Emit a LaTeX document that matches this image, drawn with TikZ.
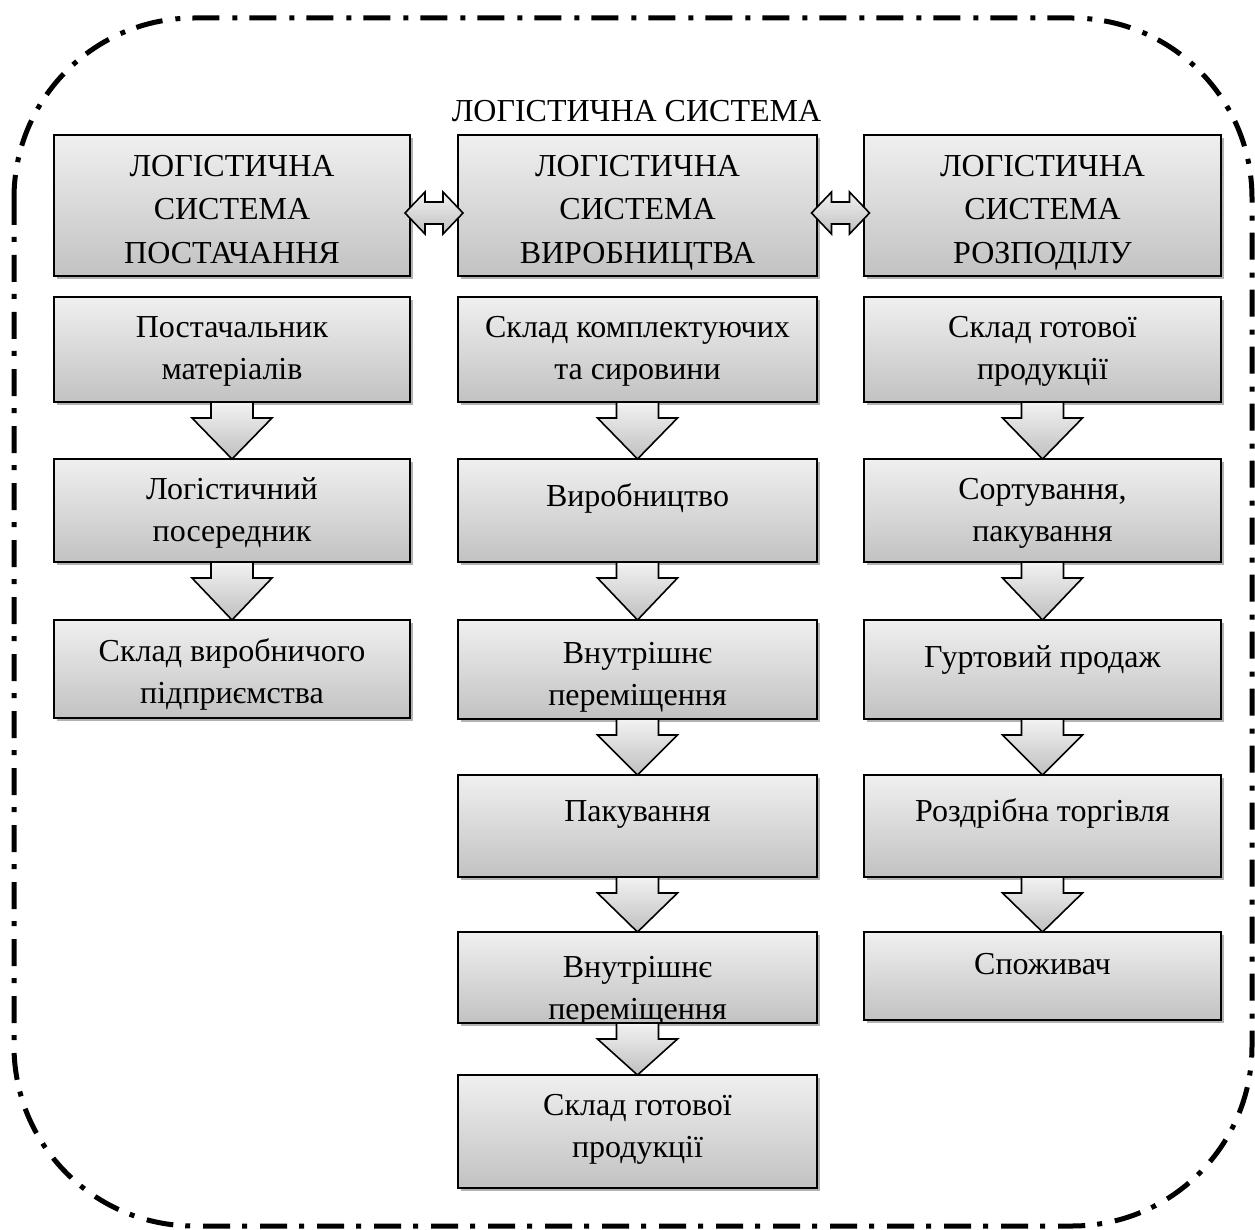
\documentclass[tikz,border=0pt]{standalone}
\usepackage{fontspec}
\setmainfont{Liberation Serif}
\usetikzlibrary{shadows,calc}

\tikzset{
  cellbox/.style={rectangle, draw=black, line width=2pt, inner sep=0pt, outer sep=0pt,
    top color=gray!12, bottom color=gray!48,
    drop shadow={shadow xshift=3pt, shadow yshift=-3pt, opacity=0.3, fill=black}},
  celltext/.style={anchor=north, yshift=29.4pt, align=center, inner sep=0pt,
    font=\fontsize{32}{42}\selectfont},
  headtext/.style={celltext, font=\fontsize{32}{43.5}\selectfont},
  blockarrow/.style={draw=black, line width=1.6pt, line join=miter,
    top color=gray!10, bottom color=gray!50},
  frameline/.style={line width=5pt, dash pattern=on 27pt off 12pt on 5pt off 13pt,
    rounded corners=180pt},
}

% block arrow pointing down from one cell to the next
\newcommand\flowarrow[2]{%
  \draw[blockarrow] ([xshift=-21pt]#1.south) -- ++(0,-16pt) coordinate (#1-#2-l)
    -- ++(-19pt,0) -- (#2.north) -- ([xshift=61pt]#1-#2-l) -- ++(-19pt,0)
    -- ([xshift=21pt]#1.south) -- cycle;}

% two-headed block arrow between neighbouring header cells
\newcommand\linkarrow[2]{%
  \coordinate (#1-#2-mid) at ($(#1.east)!0.5!(#2.west)$);
  \draw[blockarrow] ([xshift=-29pt,yshift=-7.5pt]#1-#2-mid) -- ++(20pt,21pt) -- ++(0,-10pt)
    -- ++(18pt,0) -- ++(0,10pt) -- ++(20pt,-21pt) -- ++(-20pt,-21pt) -- ++(0,10pt)
    -- ++(-18pt,0) -- ++(0,-10pt) -- cycle;}

\begin{document}
\begin{tikzpicture}[x=1pt,y=-1pt]
\useasboundingbox (0,0) rectangle (1255,1230);

% outer dash-dotted frame
\draw[frameline] (14,18) rectangle (1252,1226);

\node[font=\fontsize{32}{36}\selectfont, anchor=base, inner sep=0pt] (title) at (636.5,122) {ЛОГІСТИЧНА СИСТЕМА};

% header cells
\node[cellbox, minimum width=356pt, minimum height=141pt] (h1) at (232,205.5) {};
\node[cellbox, minimum width=359pt, minimum height=141pt] (h2) at (637.5,205.5) {};
\node[cellbox, minimum width=357pt, minimum height=141pt] (h3) at (1042.5,205.5) {};
\node[headtext] (h1t) at (232,175) {\strut ЛОГІСТИЧНА\\СИСТЕМА\\ПОСТАЧАННЯ};
\node[headtext] (h2t) at (637.5,175) {\strut ЛОГІСТИЧНА\\СИСТЕМА\\ВИРОБНИЦТВА};
\node[headtext] (h3t) at (1042.5,175) {\strut ЛОГІСТИЧНА\\СИСТЕМА\\РОЗПОДІЛУ};

% supply column
\node[cellbox, minimum width=356pt, minimum height=105pt] (a1) at (232,349.5) {};
\node[cellbox, minimum width=356pt, minimum height=103pt] (a2) at (232,510.5) {};
\node[cellbox, minimum width=356pt, minimum height=98pt] (a3) at (232,669) {};
\node[celltext] (a1t) at (232,337) {\strut Постачальник\\матеріалів};
\node[celltext] (a2t) at (232,499) {\strut Логістичний\\посередник};
\node[celltext] (a3t) at (232,661) {\strut Склад виробничого\\підприємства};

% production column
\node[cellbox, minimum width=359pt, minimum height=105pt] (b1) at (637.5,349.5) {};
\node[cellbox, minimum width=359pt, minimum height=103pt] (b2) at (637.5,510.5) {};
\node[cellbox, minimum width=359pt, minimum height=99pt] (b3) at (637.5,669.5) {};
\node[cellbox, minimum width=359pt, minimum height=102pt] (b4) at (637.5,826) {};
\node[cellbox, minimum width=359pt, minimum height=91pt] (b5) at (637.5,977.5) {};
\node[cellbox, minimum width=359pt, minimum height=113pt] (b6) at (637.5,1131.5) {};
\node[celltext] (b1t) at (637.5,337) {\strut Склад комплектуючих\\та сировини};
\node[celltext] (b2t) at (637.5,506) {\strut Виробництво};
\node[celltext] (b3t) at (637.5,663) {\strut Внутрішнє\\переміщення};
\node[celltext] (b4t) at (637.5,821) {\strut Пакування};
\begin{scope}
  \clip (459,933) rectangle (816,1022);
  \node[celltext] (b5t) at (637.5,977) {\strut Внутрішнє\\переміщення};
\end{scope}
\node[celltext] (b6t) at (637.5,1115) {\strut Склад готової\\продукції};

% distribution column
\node[cellbox, minimum width=357pt, minimum height=105pt] (c1) at (1042.5,349.5) {};
\node[cellbox, minimum width=357pt, minimum height=103pt] (c2) at (1042.5,510.5) {};
\node[cellbox, minimum width=357pt, minimum height=99pt] (c3) at (1042.5,669.5) {};
\node[cellbox, minimum width=357pt, minimum height=102pt] (c4) at (1042.5,826) {};
\node[cellbox, minimum width=357pt, minimum height=88pt] (c5) at (1042.5,976) {};
\node[celltext] (c1t) at (1042.5,337) {\strut Склад готової\\продукції};
\node[celltext] (c2t) at (1042.5,499) {\strut Сортування,\\пакування};
\node[celltext] (c3t) at (1042.5,667) {\strut Гуртовий продаж};
\node[celltext] (c4t) at (1042.5,821) {\strut Роздрібна торгівля};
\node[celltext] (c5t) at (1042.5,974) {\strut Споживач};

% flow arrows
\flowarrow{a1}{a2}
\flowarrow{a2}{a3}
\flowarrow{b1}{b2}
\flowarrow{b2}{b3}
\flowarrow{b3}{b4}
\flowarrow{b4}{b5}
\flowarrow{b5}{b6}
\flowarrow{c1}{c2}
\flowarrow{c2}{c3}
\flowarrow{c3}{c4}
\flowarrow{c4}{c5}

% links between the subsystems
\linkarrow{h1}{h2}
\linkarrow{h2}{h3}
\end{tikzpicture}
\end{document}
